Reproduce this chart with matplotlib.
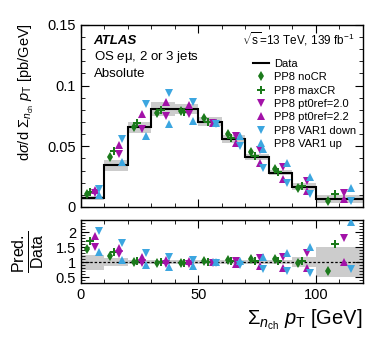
import numpy as np
import matplotlib
matplotlib.use('Agg')
import matplotlib.pyplot as plt
from matplotlib.ticker import MultipleLocator

plt.rcParams['font.family'] = ['Liberation Sans', 'DejaVu Sans']
plt.rcParams['mathtext.fontset'] = 'custom'
plt.rcParams['mathtext.rm'] = 'Liberation Sans'
plt.rcParams['mathtext.it'] = 'Liberation Sans:italic'
plt.rcParams['mathtext.bf'] = 'Liberation Sans:bold'

# bin edges and unfolded data
edges = [0, 10, 20, 30, 40, 50, 60, 70, 80, 90, 100, 120]
data = [0.0074, 0.0344, 0.0655, 0.0806, 0.0806, 0.0702, 0.0559, 0.0413, 0.0281, 0.0165, 0.0066]
data_unc = [0.00185, 0.0045, 0.0046, 0.0056, 0.0044, 0.0039, 0.0034, 0.0027, 0.0022, 0.0028, 0.0033]

# predictions
noCR = [0.0107, 0.0409, 0.0655, 0.0774, 0.0790, 0.0730, 0.0604, 0.0454, 0.0309, 0.0157, 0.0046]
maxCR = [0.0126, 0.0458, 0.0688, 0.0798, 0.0782, 0.0702, 0.0570, 0.0421, 0.0287, 0.0172, 0.0105]
pt0ref20 = [0.0112, 0.0437, 0.0642, 0.0750, 0.0766, 0.0688, 0.0587, 0.0471, 0.0326, 0.0215, 0.0118]
pt0ref22 = [0.0138, 0.0509, 0.0766, 0.0862, 0.0838, 0.0695, 0.0525, 0.0359, 0.0228, 0.0130, 0.0065]
var1down = [0.0150, 0.0557, 0.0845, 0.0935, 0.0862, 0.0681, 0.0498, 0.0322, 0.0197, 0.0107, 0.0050]
var1up = [0.0098, 0.0372, 0.0583, 0.0685, 0.0709, 0.0695, 0.0581, 0.0479, 0.0365, 0.0246, 0.0155]

green = '#1b7a1b'
purple = '#a312a8'
blue = '#3ca6e0'
models = [
    ('PP8 noCR', noCR, 'd', green, 0.25, 5.5),
    ('PP8 maxCR', maxCR, 'P', green, 0.40, 6),
    ('PP8 pt0ref=2.0', pt0ref20, 'v', purple, 0.60, 6),
    ('PP8 pt0ref=2.2', pt0ref22, '^', purple, 0.60, 6),
    ('PP8 VAR1 down', var1down, 'v', blue, 0.75, 6),
    ('PP8 VAR1 up', var1up, '^', blue, 0.75, 6),
]

edges = np.array(edges)
data = np.array(data)
data_unc = np.array(data_unc)
lo = edges[:-1]
w = np.diff(edges)

fig = plt.figure(figsize=(3.82, 3.46), dpi=100)
ax = fig.add_axes([0.212, 0.402, 0.738, 0.526])
rax = fig.add_axes([0.212, 0.182, 0.738, 0.182])

# uncertainty bands
for i in range(len(data)):
    ax.fill_between([edges[i], edges[i + 1]], data[i] - data_unc[i], data[i] + data_unc[i],
                    color='#cccccc', lw=0, zorder=1)
    r = data_unc[i] / data[i]
    rax.fill_between([edges[i], edges[i + 1]], 1 - r, 1 + r, color='#cccccc', lw=0, zorder=1)

ax.stairs(data, edges, color='black', lw=1.5, zorder=3, label='Data', baseline=None)
rax.axhline(1, color='black', ls=(0, (2, 1.5)), lw=0.9, zorder=3)

for name, vals, mk, col, frac, ms in models:
    x = lo + w * frac
    vals = np.array(vals)
    ax.plot(x, vals, ls='none', marker=mk, color=col, ms=ms, mew=0, zorder=4, label=name)
    rax.plot(x, vals / data, ls='none', marker=mk, color=col, ms=ms, mew=0, zorder=4)

for a in (ax, rax):
    a.set_xlim(0, 120)
    a.xaxis.set_major_locator(MultipleLocator(50))
    a.xaxis.set_minor_locator(MultipleLocator(10))
    a.tick_params(which='both', direction='in', top=True, right=True, labelsize=10.5)
    a.tick_params(which='major', length=6)
    a.tick_params(which='minor', length=3)
    for s in a.spines.values():
        s.set_linewidth(1.0)

ax.set_ylim(0, 0.15)
ax.yaxis.set_major_locator(MultipleLocator(0.05))
ax.yaxis.set_minor_locator(MultipleLocator(0.01))
ax.set_yticks([0, 0.05, 0.1, 0.15])
ax.set_yticklabels(['0', '0.05', '0.1', '0.15'])
ax.tick_params(labelbottom=False)

rax.set_ylim(0.3, 2.4)
rax.set_yticks([0.5, 1, 1.5, 2])
rax.set_yticklabels(['0.5', '1', '1.5', '2'])
rax.yaxis.set_minor_locator(MultipleLocator(0.1))

ax.set_ylabel(r'd$\sigma$/d $\Sigma_{n_{\mathrm{ch}}}$ $p_{\mathrm{T}}$ [pb/GeV]', fontsize=10.5)
ax.yaxis.set_label_coords(-0.16, 0.63)
rax.set_ylabel(r'$\frac{\mathrm{Pred.}}{\mathrm{Data}}$', fontsize=16.5)
rax.yaxis.set_label_coords(-0.125, 0.5)
rax.set_xlabel(r'$\Sigma_{n_{\mathrm{ch}}}$ $p_{\mathrm{T}}$ [GeV]', fontsize=14.5, loc='right')

ax.text(0.045, 0.895, 'ATLAS', transform=ax.transAxes, fontsize=9.5, fontweight='bold', style='italic')
ax.text(0.045, 0.805, r'OS $e$$\mathrm{\mu}$, 2 or 3 jets', transform=ax.transAxes, fontsize=9.5)
ax.text(0.045, 0.715, 'Absolute', transform=ax.transAxes, fontsize=9.5)
ax.text(0.97, 0.895, r'$\sqrt{\mathrm{s}}$=13 TeV, 139 fb$^{-1}$', transform=ax.transAxes,
        fontsize=8.5, ha='right')

ax.legend(loc='upper right', bbox_to_anchor=(1.0, 0.85), frameon=False, fontsize=8,
          handlelength=1.4, handletextpad=0.5, labelspacing=0.3, borderaxespad=0.2)

fig.savefig('out.png', dpi=100)
